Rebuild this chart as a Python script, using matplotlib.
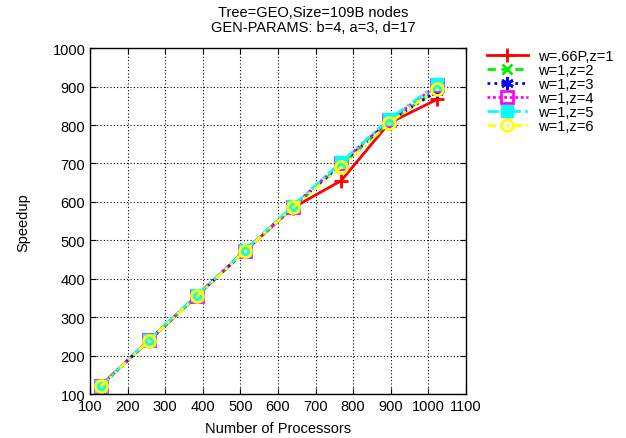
import matplotlib
matplotlib.use("Agg")
import matplotlib.pyplot as plt

plt.rcParams['font.family'] = ['Liberation Sans', 'DejaVu Sans']

procs = [128, 256, 384, 512, 640, 768, 896, 1024]
labels = ["w=.66P,z=1", "w=1,z=2", "w=1,z=3", "w=1,z=4", "w=1,z=5", "w=1,z=6"]
s1 = [122, 238, 355, 472, 585, 655, 805, 867]
s2 = [121, 240, 355, 473, 587, 695, 808, 893]
s3 = [121, 240, 356, 473, 588, 698, 810, 888]
s4 = [122, 240, 356, 473, 588, 702, 812, 903]
s5 = [121, 241, 357, 474, 590, 703, 815, 906]
s6 = [120, 239, 354, 472, 586, 690, 805, 895]
series = [s1, s2, s3, s4, s5, s6]

styles = [
    dict(color='red', ls='-', lw=2.0, marker='+', ms=10, mew=2.0, mfc='none'),
    dict(color='#00ee00', ls=(0, (3, 2)), lw=2.0, marker='x', ms=7, mew=2.0, mfc='none'),
    dict(color='blue', ls=(0, (1, 1.5)), lw=2.0, marker=(6, 2, 0), ms=9, mew=2.0, mfc='none'),
    dict(color='magenta', ls=(0, (1, 1)), lw=2.0, marker='s', ms=8.5, mew=2.0, mfc='none'),
    dict(color='cyan', ls=(0, (4, 1.5, 1, 1.5)), lw=2.0, marker='s', ms=8, mew=1.0, mfc='cyan'),
    dict(color='yellow', ls=(0, (3, 1.5, 1, 1.5, 1, 1.5)), lw=2.0, marker='o', ms=8.5, mew=2.0, mfc='none'),
]

fs = 10.5
fig = plt.figure(figsize=(6.26, 4.39), dpi=100)
ax = fig.add_axes([0.144, 0.100, 0.600, 0.788])

handles = []
for s, st, lab in zip(series, styles, labels):
    h, = ax.plot(procs, s, label=lab, **st)
    handles.append(h)
# center dot for yellow circles
ax.plot(procs, s6, ls='none', marker='.', ms=3, color='yellow')

ax.set_xlim(100, 1100)
ax.set_ylim(100, 1000)
ax.set_xticks(range(100, 1101, 100))
ax.set_yticks(range(100, 1001, 100))
ax.grid(True, color='black', ls=(0, (1, 2)), lw=0.8)
ax.tick_params(direction='in', top=True, right=True, labelsize=fs, length=4)
for sp in ax.spines.values():
    sp.set_linewidth(1.0)
ax.set_xlabel("Number of Processors", fontsize=fs, labelpad=6)
ax.set_ylabel("Speedup", fontsize=fs, labelpad=16)

fig.text(0.5, 0.953, "Tree=GEO,Size=109B nodes\nGEN-PARAMS: b=4, a=3, d=17",
         ha='center', va='center', fontsize=fs, linespacing=1.15)

fig.legend(handles=handles, labels=labels, loc='upper left',
           bbox_to_anchor=(0.778, 0.886), frameon=False, fontsize=fs,
           handlelength=2.8, handletextpad=0.7, labelspacing=0.0,
           borderaxespad=0, borderpad=0)

fig.savefig("out.png", dpi=100)
